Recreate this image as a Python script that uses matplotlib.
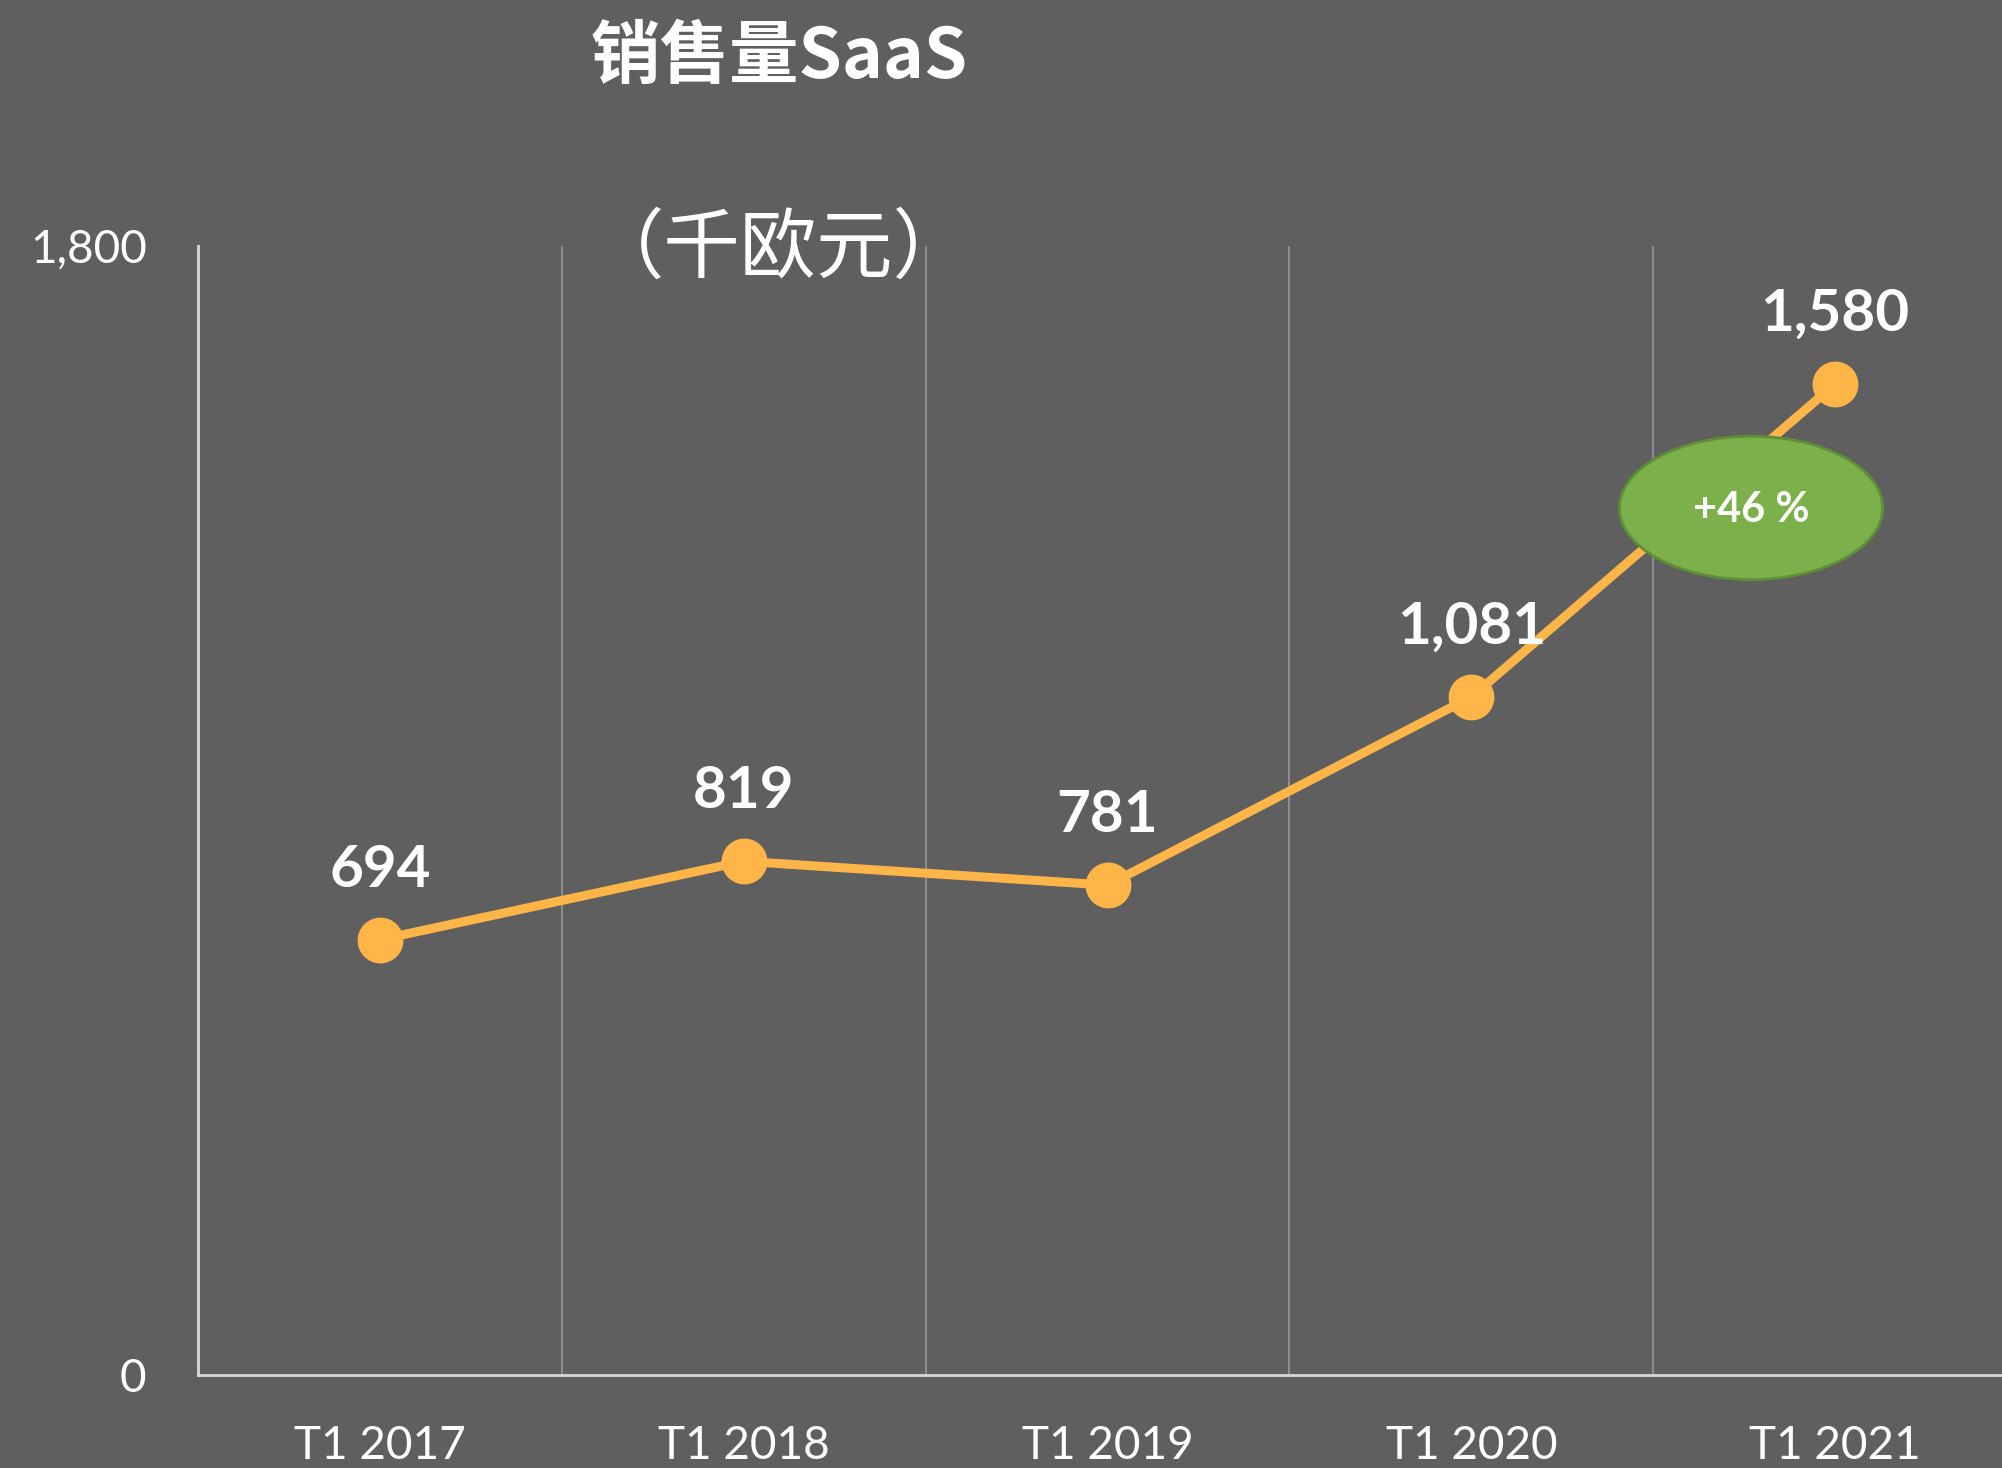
import numpy as np
import matplotlib
matplotlib.use("Agg")
import matplotlib.pyplot as plt
from matplotlib.patches import Ellipse
from matplotlib.ticker import FixedLocator, FuncFormatter

# data
categories = ["T1 2017", "T1 2018", "T1 2019", "T1 2020", "T1 2021"]
sales = [694, 819, 781, 1081, 1580]
growth_label = "+46 %"
title_line1 = "销售量SaaS"
title_line2 = "（千欧元）"

bg = "#5F5F5F"
orange = "#FFB547"
plt.rcParams["font.family"] = ["Lato", "Noto Sans CJK SC", "DejaVu Sans"]

fig = plt.figure(figsize=(20.02, 14.68), dpi=100, facecolor=bg)
ax = fig.add_axes([0.0989, 0.0634, 0.901, 0.769], facecolor=bg)

x = np.arange(len(categories))
ax.plot(x, sales, color=orange, lw=6.5, marker="o", markersize=32,
        solid_capstyle="round", zorder=3, clip_on=False)

for xi, v in zip(x, sales):
    ax.annotate(f"{v:,}", (xi, v), xytext=(0, 50), textcoords="offset points",
                ha="center", va="center", color="white", fontsize=42,
                fontweight="bold", zorder=4)

ax.set_xlim(-0.5, 4.458)
ax.set_ylim(0, 1800)
ax.set_xticks(x)
ax.set_xticklabels(categories)
ax.set_yticks([0, 1800])
ax.yaxis.set_major_formatter(FuncFormatter(lambda v, p: f"{v:,.0f}"))
ax.xaxis.set_minor_locator(FixedLocator(x[:-1] + 0.5))
ax.grid(which="minor", axis="x", color="#8C8C8C", lw=1.5)
ax.tick_params(axis="both", which="both", length=0, colors="white", labelsize=33)
ax.tick_params(axis="y", pad=37)
ax.tick_params(axis="x", pad=36)

for s in ["top", "right"]:
    ax.spines[s].set_visible(False)
for s in ["left", "bottom"]:
    ax.spines[s].set_color("#D9D9D9")
    ax.spines[s].set_linewidth(2)

# growth bubble
ell = Ellipse((0.861, 0.768), 0.146, 0.127, transform=ax.transAxes,
              facecolor="#7CB04B", edgecolor="#5E8E36", lw=2, zorder=5)
ax.add_patch(ell)
ax.text(0.861, 0.766, growth_label, transform=ax.transAxes, ha="center",
        va="center", color="white", fontsize=30, fontweight="bold", zorder=6)

fig.text(0.389, 0.961, title_line1, ha="center", va="center", color="white",
         fontsize=50, fontweight="bold",
         family=["Noto Sans CJK SC", "DejaVu Sans"])
fig.text(0.389, 0.830, title_line2, ha="center", va="center", color="white",
         fontsize=55, family=["Noto Sans CJK SC", "DejaVu Sans"])

fig.savefig("out.png", dpi=100, facecolor=bg)
